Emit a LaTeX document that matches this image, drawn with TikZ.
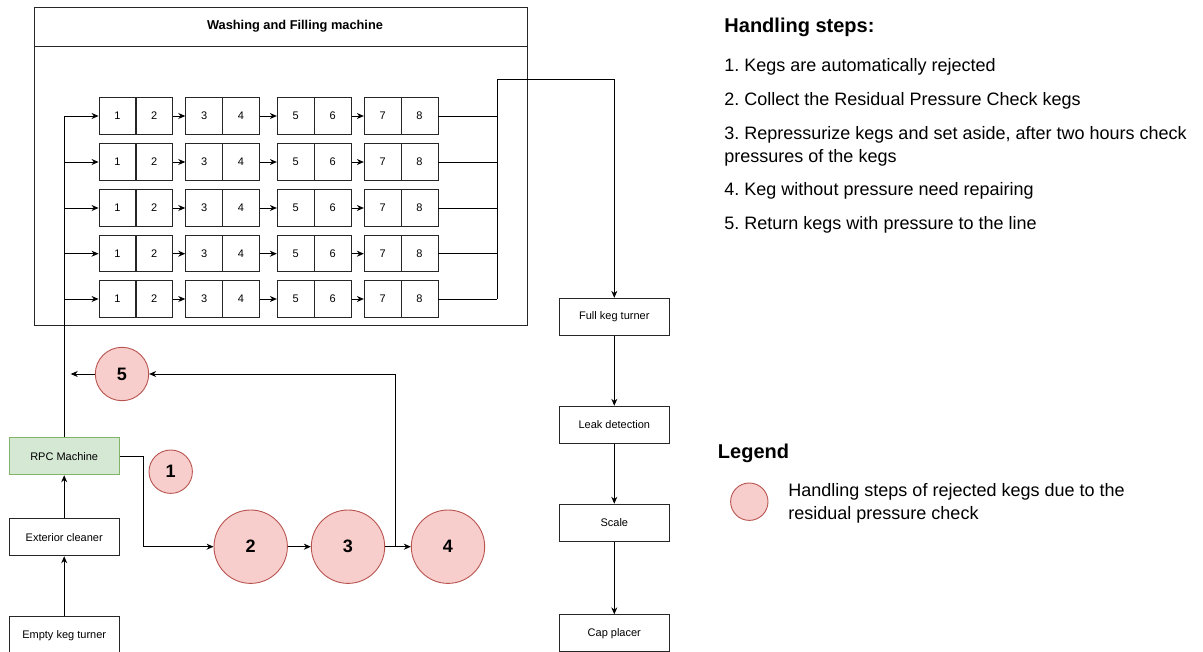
\documentclass[tikz,border=0pt]{standalone}
\usepackage{fontspec}
\setmainfont{Liberation Sans}
\usetikzlibrary{arrows.meta,calc}
\definecolor{redfill}{HTML}{F8CECC}
\definecolor{redline}{HTML}{B85450}
\definecolor{greenfill}{HTML}{D5E8D4}
\definecolor{greenline}{HTML}{82B366}
\frenchspacing
\begin{document}
\frenchspacing
\begin{tikzpicture}[x=1pt,y=-1pt,line width=0.9pt,
  box/.style={draw=black!85, minimum width=110pt, minimum height=37pt, inner sep=0pt, font=\fontsize{11}{13}\selectfont},
  cell/.style={draw=black!85, minimum width=37pt, minimum height=36.5pt, inner sep=0pt, font=\fontsize{11}{13}\selectfont},
  stepc/.style={circle, draw=redline, fill=redfill, inner sep=0pt, font=\bfseries\fontsize{18}{20}\selectfont},
  arr/.style={-{Stealth[length=7pt,width=6pt]}},
  txt/.style={anchor=base west, inner sep=0pt, font=\fontsize{18}{22}\selectfont},
  head/.style={anchor=base west, inner sep=0pt, font=\bfseries\fontsize{20}{24}\selectfont}]
\useasboundingbox (0,0) rectangle (1203,652);

% machine box
\node[draw=black!85, minimum width=493pt, minimum height=318pt, inner sep=0pt] (wfm) at (280.5,166) {};
\node[draw=black!85, minimum width=493pt, minimum height=39pt, inner sep=0pt, font=\bfseries\fontsize{12.8}{15}\selectfont] (title) at (280.5,26.5) {\hspace*{29pt}Washing and Filling machine};

% left column
\node[box, fill=greenfill, draw=greenline] (rpc) at (64.2,456.3) {RPC Machine};
\node[box] (ext) at (64.2,537.3) {Exterior cleaner};
\node[box] (empty) at (64.2,635.2) {Empty keg turner};

% right column
\node[box] (full) at (614.3,316.8) {Full keg turner};
\node[box] (leak) at (614.3,424.7) {Leak detection};
\node[box] (scale) at (614.3,522.7) {Scale};
\node[box] (cap) at (614.3,633.3) {Cap placer};

% grid
\foreach \r/\y in {1/116,2/162,3/208,4/253.7,5/299}{
  \foreach \k/\x in {1/117.5,2/154.3,3/204.2,4/241,5/295.8,6/332.8,7/382.8,8/419.5}{
    \node[cell] (c\r\k) at (\x,\y) {\k};
  }
}
\coordinate (ct) at (497,79);

\draw (rpc.north) -- (rpc.north |- c11.west);
\foreach \r in {1,...,5}{
  \draw[arr] (rpc.north |- c\r1.west) -- (c\r1.west);
  \draw[arr] (c\r2.east) -- (c\r3.west);
  \draw[arr] (c\r4.east) -- (c\r5.west);
  \draw[arr] (c\r6.east) -- (c\r7.west);
  \draw (c\r8.east) -- (ct |- c\r8.east);
}
\draw[arr] (ct |- c58.east) -- (ct) -| (full.north);

\draw[arr] (full.south) -- (leak.north);
\draw[arr] (leak.south) -- (scale.north);
\draw[arr] (scale.south) -- (cap.north);
\draw[arr] (empty.north) -- (ext.south);
\draw[arr] (ext.north) -- (rpc.south);

% handling step circles
\node[stepc, minimum size=53.4pt] (s5) at (122,374) {5};
\node[stepc, minimum size=43.4pt] (s1) at (170.7,471.7) {1};
\node[stepc, minimum size=73.4pt] (s2) at (250.7,546.7) {2};
\node[stepc, minimum size=73.4pt] (s3) at (348,546.7) {3};
\node[stepc, minimum size=73.4pt] (s4) at (448,546.7) {4};

\coordinate (rb) at (143,0);
\coordinate (jb) at (395,546.7);
\coordinate (s5end) at (70.7,374);
\draw[arr] (rpc.east) -| (rb |- s2.west) -- (s2.west);
\draw[arr] (s2.east) -- (s3.west);
\draw[arr] (s3.east) -- (s4.west);
\draw[arr] (jb) |- (s5.east);
\draw[arr] (s5.west) -- (s5end);

% handling steps text
\node[head] (hs) at (724,33) {Handling steps:};
\node[txt] (t1) at (724,71.5) {1. Kegs are automatically rejected};
\node[txt] (t2) at (724,105.5) {2. Collect the Residual Pressure Check kegs};
\node[txt] (t3a) at (724,139.5) {3. Repressurize kegs and set aside, after two hours check};
\node[txt] (t3b) at (724,162.5) {pressures of the kegs};
\node[txt] (t4) at (724,195.5) {4. Keg without pressure need repairing};
\node[txt] (t5) at (724,229.5) {5. Return kegs with pressure to the line};

% legend
\node[head] (lg) at (717.5,458) {Legend};
\node[circle, draw=redline, fill=redfill, minimum size=37.4pt, inner sep=0pt] (lc) at (749.3,501.7) {};
\node[txt] (l1) at (788,496.5) {Handling steps of rejected kegs due to the};
\node[txt] (l2) at (788,519.5) {residual pressure check};
\end{tikzpicture}
\end{document}
